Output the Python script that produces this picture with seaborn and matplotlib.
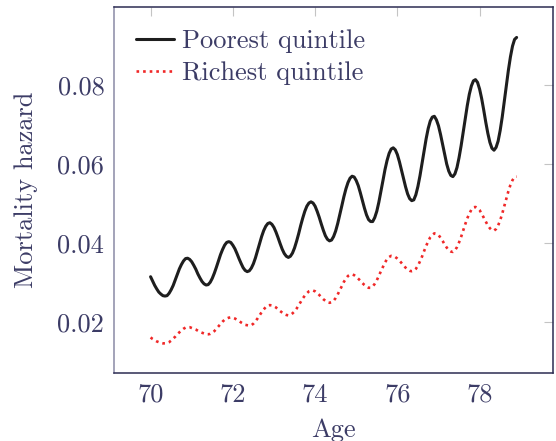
import numpy as np
import pandas as pd
import matplotlib
matplotlib.use("Agg")
import matplotlib.pyplot as plt
import seaborn as sns

# Age grid (years, 0.05 steps from 70 to 78.9)
age = [round(70 + 0.05 * i, 2) for i in range(179)]

# Mortality hazard, one row per half year of age
poorest = [
    0.0314, 0.0303, 0.0292, 0.0283, 0.0275, 0.0270, 0.0266, 0.0265, 0.0266, 0.0272,
    0.0281, 0.0292, 0.0306, 0.0320, 0.0334, 0.0345, 0.0354, 0.0360, 0.0361, 0.0358,
    0.0352, 0.0343, 0.0333, 0.0321, 0.0311, 0.0302, 0.0296, 0.0293, 0.0294, 0.0300,
    0.0310, 0.0323, 0.0338, 0.0354, 0.0370, 0.0383, 0.0394, 0.0401, 0.0403, 0.0401,
    0.0394, 0.0385, 0.0373, 0.0360, 0.0348, 0.0337, 0.0330, 0.0327, 0.0329, 0.0336,
    0.0347, 0.0362, 0.0380, 0.0398, 0.0416, 0.0431, 0.0442, 0.0449, 0.0451, 0.0447,
    0.0439, 0.0427, 0.0413, 0.0398, 0.0384, 0.0373, 0.0366, 0.0363, 0.0366, 0.0374,
    0.0387, 0.0404, 0.0423, 0.0444, 0.0463, 0.0480, 0.0493, 0.0501, 0.0504, 0.0501,
    0.0493, 0.0480, 0.0465, 0.0448, 0.0432, 0.0418, 0.0409, 0.0405, 0.0407, 0.0416,
    0.0430, 0.0449, 0.0471, 0.0494, 0.0517, 0.0537, 0.0553, 0.0564, 0.0569, 0.0567,
    0.0558, 0.0545, 0.0527, 0.0507, 0.0488, 0.0471, 0.0459, 0.0454, 0.0454, 0.0464,
    0.0480, 0.0503, 0.0530, 0.0558, 0.0586, 0.0609, 0.0627, 0.0638, 0.0641, 0.0636,
    0.0624, 0.0606, 0.0585, 0.0563, 0.0542, 0.0524, 0.0512, 0.0507, 0.0509, 0.0522,
    0.0543, 0.0570, 0.0601, 0.0633, 0.0664, 0.0690, 0.0709, 0.0719, 0.0721, 0.0712,
    0.0697, 0.0675, 0.0650, 0.0624, 0.0600, 0.0582, 0.0571, 0.0568, 0.0575, 0.0591,
    0.0616, 0.0646, 0.0680, 0.0715, 0.0748, 0.0777, 0.0798, 0.0811, 0.0814, 0.0807,
    0.0790, 0.0766, 0.0737, 0.0706, 0.0678, 0.0655, 0.0640, 0.0635, 0.0642, 0.0658,
    0.0685, 0.0719, 0.0758, 0.0799, 0.0838, 0.0872, 0.0899, 0.0916, 0.0921,
]

richest = [
    0.0160, 0.0156, 0.0153, 0.0150, 0.0148, 0.0146, 0.0145, 0.0145, 0.0146, 0.0148,
    0.0152, 0.0157, 0.0162, 0.0168, 0.0173, 0.0178, 0.0182, 0.0185, 0.0186, 0.0186,
    0.0184, 0.0182, 0.0180, 0.0177, 0.0174, 0.0172, 0.0170, 0.0168, 0.0168, 0.0169,
    0.0172, 0.0176, 0.0182, 0.0188, 0.0194, 0.0200, 0.0205, 0.0208, 0.0210, 0.0211,
    0.0210, 0.0208, 0.0205, 0.0202, 0.0198, 0.0195, 0.0192, 0.0191, 0.0190, 0.0191,
    0.0195, 0.0201, 0.0208, 0.0216, 0.0224, 0.0231, 0.0237, 0.0241, 0.0242, 0.0241,
    0.0239, 0.0236, 0.0231, 0.0227, 0.0223, 0.0219, 0.0217, 0.0216, 0.0217, 0.0221,
    0.0226, 0.0233, 0.0242, 0.0250, 0.0259, 0.0266, 0.0272, 0.0277, 0.0279, 0.0279,
    0.0277, 0.0273, 0.0268, 0.0262, 0.0257, 0.0253, 0.0249, 0.0248, 0.0249, 0.0253,
    0.0260, 0.0269, 0.0280, 0.0290, 0.0301, 0.0309, 0.0316, 0.0319, 0.0320, 0.0318,
    0.0314, 0.0309, 0.0304, 0.0298, 0.0293, 0.0289, 0.0286, 0.0286, 0.0289, 0.0296,
    0.0305, 0.0316, 0.0328, 0.0339, 0.0350, 0.0359, 0.0364, 0.0367, 0.0366, 0.0364,
    0.0360, 0.0355, 0.0349, 0.0343, 0.0337, 0.0332, 0.0329, 0.0328, 0.0329, 0.0334,
    0.0342, 0.0353, 0.0365, 0.0379, 0.0392, 0.0404, 0.0414, 0.0420, 0.0424, 0.0423,
    0.0420, 0.0413, 0.0405, 0.0396, 0.0388, 0.0381, 0.0378, 0.0377, 0.0381, 0.0389,
    0.0401, 0.0415, 0.0431, 0.0447, 0.0462, 0.0474, 0.0484, 0.0490, 0.0491, 0.0488,
    0.0483, 0.0474, 0.0464, 0.0454, 0.0444, 0.0437, 0.0432, 0.0431, 0.0435, 0.0444,
    0.0457, 0.0474, 0.0493, 0.0512, 0.0531, 0.0547, 0.0559, 0.0567, 0.0568,
]

series_labels = ["Poorest quintile", "Richest quintile"]
x_ticks = [70, 72, 74, 76, 78]
y_ticks = [0.02, 0.04, 0.06, 0.08]
x_label = "Age"
y_label = "Mortality hazard"

sns.set_style("white")
text_color = "#3c3c66"
plt.rcParams.update({
    "font.family": ["cmr10", "DejaVu Serif"],
    "axes.formatter.use_mathtext": True,
    "font.size": 19,
    "text.color": text_color,
    "axes.labelcolor": text_color,
    "xtick.color": "#c4c4c4",
    "ytick.color": "#c4c4c4",
    "xtick.labelcolor": text_color,
    "ytick.labelcolor": text_color,
})

df = pd.DataFrame({"age": age, "poorest": poorest, "richest": richest})

fig = plt.figure(figsize=(5.56, 4.41), dpi=100)
ax = fig.add_axes([0.205, 0.155, 0.790, 0.828])

sns.lineplot(data=df, x="age", y="poorest", ax=ax, color="#1e1e1e",
             linewidth=2.2, label=series_labels[0])
sns.lineplot(data=df, x="age", y="richest", ax=ax, color="#f02828",
             linewidth=1.9, linestyle=(0, (1, 1.5)), label=series_labels[1])

ax.set_xlim(69.11, 79.79)
ax.set_ylim(0.00707, 0.0997)
ax.set_xticks(x_ticks)
ax.set_yticks(y_ticks)
ax.set_xticklabels([str(t) for t in x_ticks])
ax.set_yticklabels([f"{t:.2f}" for t in y_ticks])
ax.tick_params(direction="in", length=6.2, width=0.8, top=True, right=True,
               labelsize=19, pad=7)
ax.set_xlabel(x_label, fontsize=19, labelpad=9)
ax.set_ylabel(y_label, fontsize=19, labelpad=14)

for side in ["top", "right", "bottom"]:
    ax.spines[side].set_color("#2c2c52")
    ax.spines[side].set_linewidth(1.1)
ax.spines["left"].set_color("#8a8aa6")
ax.spines["left"].set_linewidth(1.1)

ax.legend(loc="upper left", bbox_to_anchor=(0.05, 0.94), frameon=False,
          fontsize=19, handlelength=1.45, handletextpad=0.3,
          labelspacing=0.3, borderpad=0, borderaxespad=0)

fig.savefig("out.png", dpi=100)
